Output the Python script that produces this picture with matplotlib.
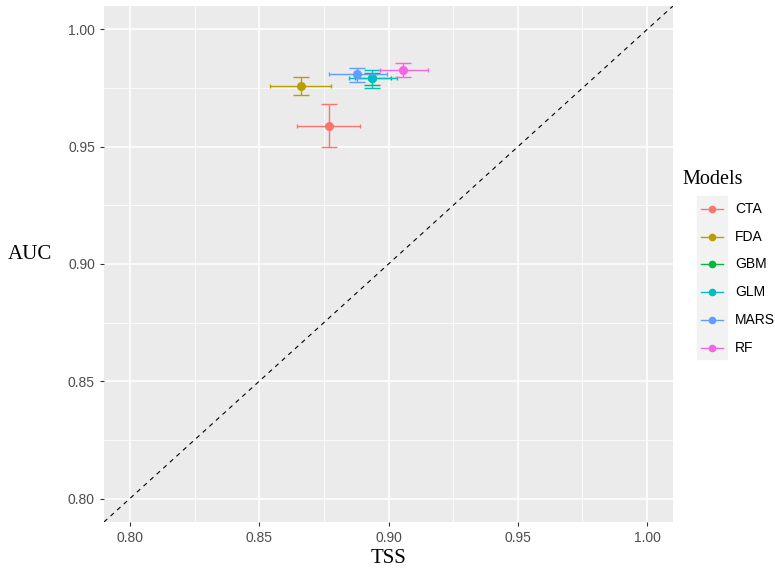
import matplotlib.pyplot as plt
from matplotlib.lines import Line2D
from matplotlib.patches import Rectangle
import numpy as np

models = ['CTA', 'FDA', 'GBM', 'GLM', 'MARS', 'RF']
colors = ['#F8766D', '#B79F00', '#00BA38', '#00BFC4', '#619CFF', '#F564E3']

tss = [0.8768, 0.8660, 0.8935, 0.8938, 0.8880, 0.9057]
tss_lo = [0.8647, 0.8541, 0.8870, 0.8848, 0.8768, 0.8968]
tss_hi = [0.8890, 0.8777, 0.9011, 0.9031, 0.8993, 0.9151]
auc = [0.9588, 0.9759, 0.9795, 0.9795, 0.9810, 0.9829]
auc_lo = [0.9499, 0.9720, 0.9765, 0.9752, 0.9778, 0.9797]
auc_hi = [0.9680, 0.9798, 0.9815, 0.9829, 0.9837, 0.9857]

ticks = [0.80, 0.85, 0.90, 0.95, 1.00]

fig = plt.figure(figsize=(7.75, 5.75), dpi=100)
ax = fig.add_axes([0.1342, 0.0922, 0.7342, 0.8974])
ax.set_facecolor('#EBEBEB')
for s in ax.spines.values():
    s.set_visible(False)

ax.set_xlim(0.79, 1.01)
ax.set_ylim(0.79, 1.01)
ax.set_xticks(ticks)
ax.set_yticks(ticks)
ax.set_xticks(np.arange(0.825, 1.0, 0.05), minor=True)
ax.set_yticks(np.arange(0.825, 1.0, 0.05), minor=True)
ax.set_xticklabels(['%.2f' % t for t in ticks])
ax.set_yticklabels(['%.2f' % t for t in ticks])
ax.grid(which='major', color='white', linewidth=1.1)
ax.grid(which='minor', color='white', linewidth=0.55)
ax.set_axisbelow(True)
ax.tick_params(which='major', length=3, width=0.8, color='#333333',
               labelcolor='#4D4D4D', labelsize=10)
ax.tick_params(which='minor', length=0)
for lab in ax.get_xticklabels() + ax.get_yticklabels():
    lab.set_family('Liberation Sans')

# diagonal reference line
ax.plot([0.79, 1.01], [0.79, 1.01], color='black', linestyle=(0, (4, 4)), linewidth=0.8)

for i in range(len(models)):
    x, y = tss[i], auc[i]
    ax.errorbar(x, y, yerr=[[y - auc_lo[i]], [auc_hi[i] - y]], fmt='none',
                ecolor=colors[i], elinewidth=1.0, capsize=5.5, capthick=1.0)
    ax.errorbar(x, y, xerr=[[x - tss_lo[i]], [tss_hi[i] - x]], fmt='none',
                ecolor=colors[i], elinewidth=1.0, capsize=1.5, capthick=1.0)
    ax.plot(x, y, 'o', color=colors[i], markersize=5.5)

ax.set_xlabel('TSS', family='Liberation Serif', fontsize=15, color='black', labelpad=3)
ax.set_ylabel('AUC', family='Liberation Serif', fontsize=15, color='black',
              rotation=0, labelpad=0)
ax.yaxis.set_label_coords(-0.13, 0.5)

# legend
fig.text(0.919, 1 - 180 / 575, 'Models', family='Liberation Serif', fontsize=14.5,
         ha='center', va='center')
fig.patches.append(Rectangle((697 / 775, 1 - 359 / 575), 30 / 775, 163 / 575,
                             transform=fig.transFigure, color='#F2F2F2', zorder=0))
for i, m in enumerate(models):
    yy = 1 - (209 + 27.7 * i) / 575
    fig.add_artist(Line2D([701 / 775, 723 / 775], [yy, yy], color=colors[i],
                          linewidth=1.0, transform=fig.transFigure))
    fig.add_artist(Line2D([712 / 775], [yy], marker='o', markersize=4.5,
                          color=colors[i], transform=fig.transFigure))
    fig.text(735 / 775, yy, m, family='Liberation Sans', fontsize=10,
             va='center', ha='left')

fig.savefig('out.png', dpi=100)
